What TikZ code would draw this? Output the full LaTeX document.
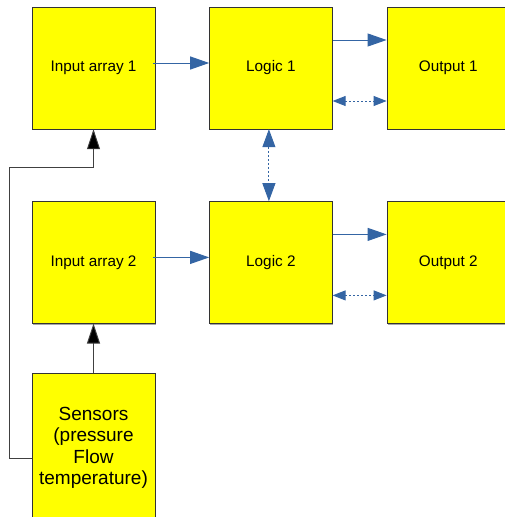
\documentclass[tikz,border=0pt]{standalone}
\usepackage{fontspec}
\setmainfont{Liberation Sans}
\usetikzlibrary{arrows.meta,positioning,shadows}

\definecolor{boxyellow}{RGB}{255,255,0}
\definecolor{linkblue}{RGB}{52,101,164}

\begin{document}
\begin{tikzpicture}[x=1pt,y=-1pt,node distance=54pt,
                    block/.style={draw=black!80,fill=boxyellow,minimum width=123pt,
                      minimum height=122pt,inner sep=0pt,font=\fontsize{15.3}{18}\selectfont,
                      drop shadow={shadow xshift=1pt,shadow yshift=-1.2pt,fill=black!35,opacity=1}},
                    flow/.style={draw=linkblue,line width=1pt,
                      -{Triangle[length=19pt,width=13pt]}},
                    link/.style={draw=linkblue,line width=0.9pt,dash pattern=on 2pt off 2pt,
                      {Triangle[length=13pt,width=10pt]}-{Triangle[length=13pt,width=10pt]}},
                    feed/.style={draw=black!75,line width=0.9pt,
                      -{Triangle[length=20pt,width=13pt,fill=black]}}]
  \useasboundingbox (0,0) rectangle (505,517);
  \clip (0,0) rectangle (505,517);

  \node[block] (in1) at (93.5,68)          {Input array 1};
  \node[block] (log1) [right=of in1]       {Logic 1};
  \node[block] (out1) [right=54pt of log1] {Output 1};
  \node[block] (in2)  [below=72pt of in1]  {Input array 2};
  \node[block] (log2) [right=of in2]       {Logic 2};
  \node[block] (out2) [right=54pt of log2] {Output 2};
  \node[block,minimum height=150pt,align=center,
        font=\fontsize{19}{21.5}\selectfont]
              (sens) [below=49pt of in2]   {Sensors\\(pressure\\Flow\\temperature)};
  \coordinate (bend) at (9,167);

  % data flow
  \draw[flow] ([xshift=-2pt,yshift=5pt]in1.east) -- ([yshift=5pt]log1.west);
  \draw[flow] ([xshift=-2pt,yshift=5pt]in2.east) -- ([yshift=5pt]log2.west);
  \draw[flow] ([yshift=28pt]log1.east) -- ([yshift=28pt]out1.west);
  \draw[flow] ([yshift=28pt]log2.east) -- ([yshift=28pt]out2.west);

  % two way links
  \draw[link] ([yshift=-33pt]log1.east) -- ([yshift=-33pt]out1.west);
  \draw[link] ([yshift=-33pt]log2.east) -- ([yshift=-33pt]out2.west);
  \draw[link,{Triangle[length=18pt,width=13pt]}-{Triangle[length=18pt,width=13pt]}]
        ([xshift=-2pt]log1.south) -- ([xshift=-2pt]log2.north);

  % sensors
  \draw[feed] (sens.north) -- (in2.south);
  \draw[feed] ([yshift=-11pt]sens.west) -| (bend) -| (in1.south);
\end{tikzpicture}
\end{document}
